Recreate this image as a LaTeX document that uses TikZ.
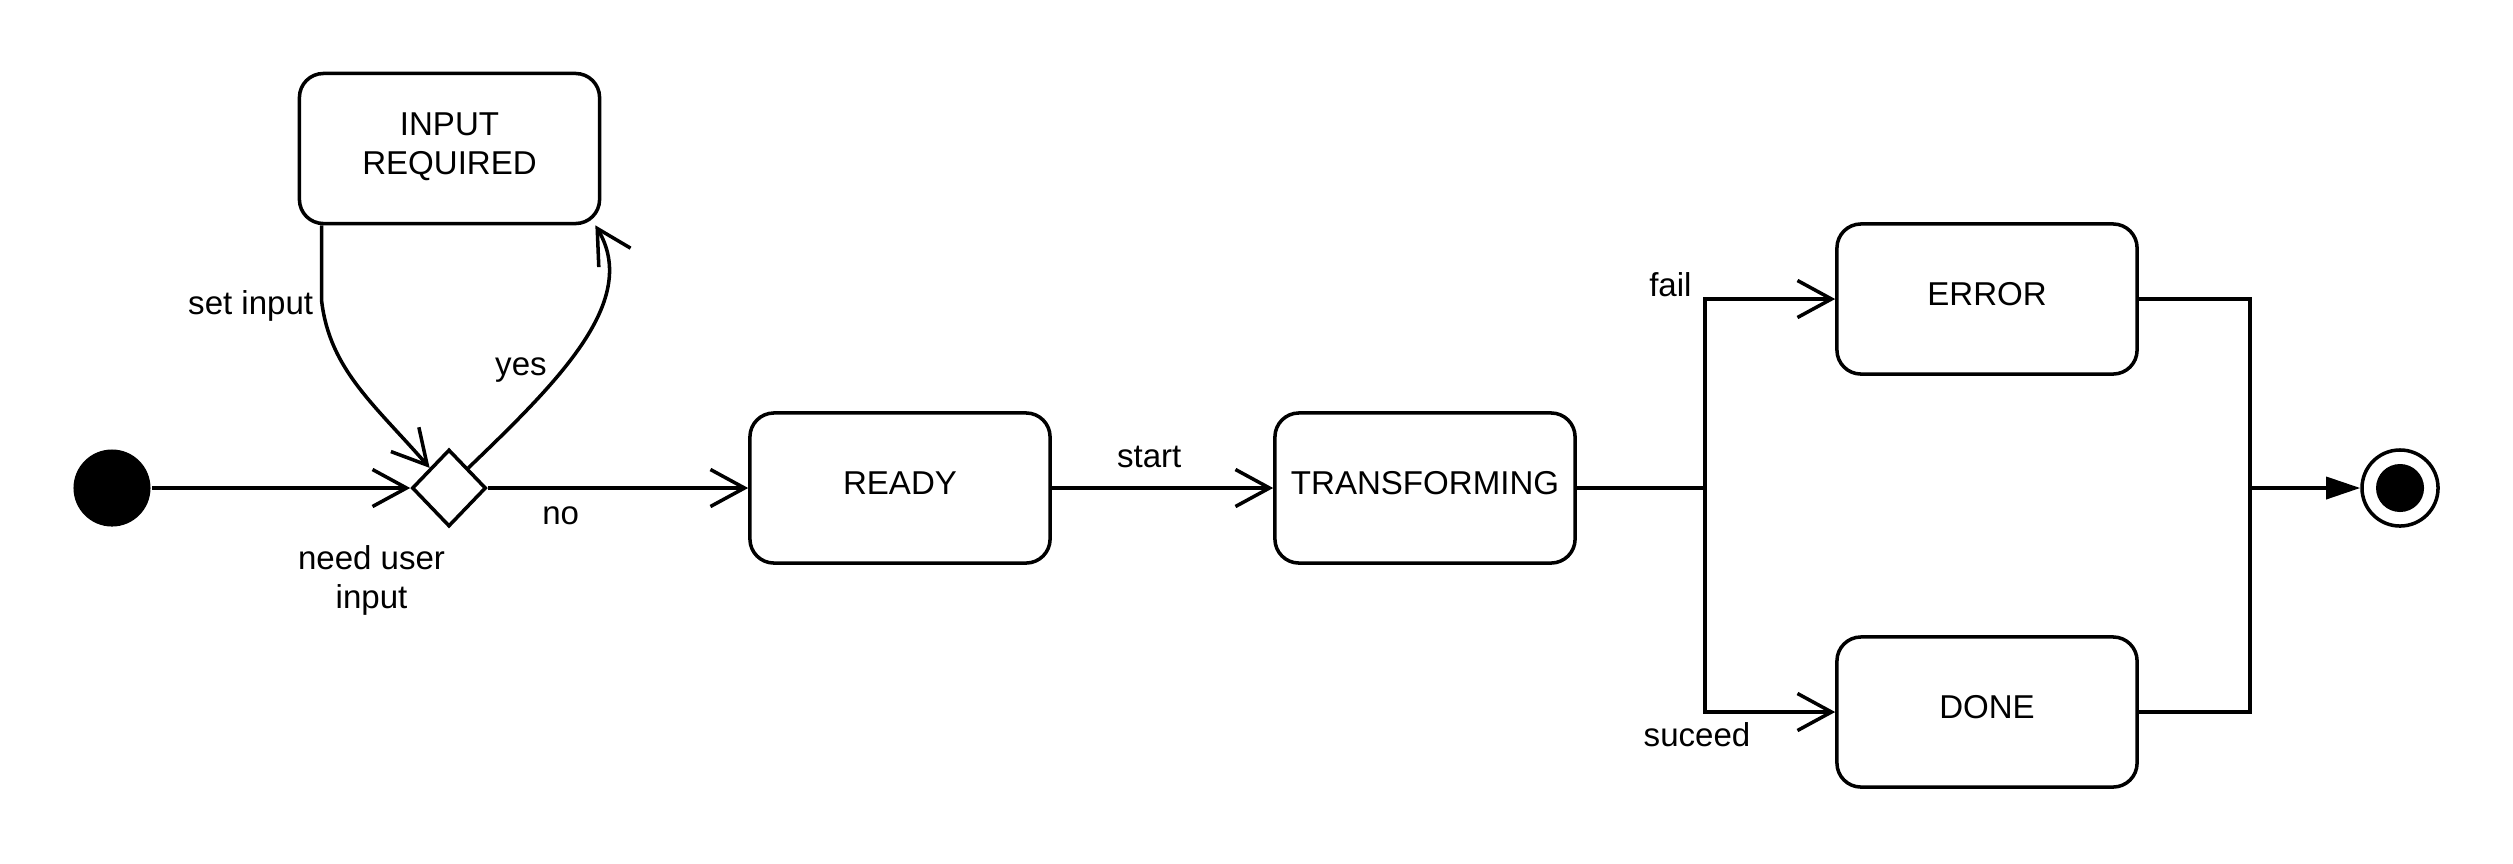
\documentclass[tikz,border=0pt]{standalone}
\usepackage{fontspec}
\setmainfont{Liberation Sans}
\usetikzlibrary{shapes.geometric,arrows.meta}

\tikzset{
    state/.style={draw, rounded corners=0.24cm, minimum width=3cm, minimum height=1.5cm, align=center, text depth=0.1cm},
    trans/.style={-{Straight Barb[length=0.34cm, width=0.37cm]}}
}

\begin{document}
\begin{tikzpicture}[x=0.01cm, y=-0.01cm, line width=1pt, font=\fontsize{9.4}{11.1}\selectfont]
        \useasboundingbox (0,0) rectangle (2513,863);
        \node [circle, fill, minimum size=0.77cm, inner sep=0] (init) at (112,488) {};
        \node [diamond, draw, minimum width=0.74cm, minimum height=0.77cm, inner sep=0] (choice) at (449,488) {};
        \node [state] (input) at (449.5,148.5) {INPUT\\REQUIRED};
        \node [state] (ready) at (900,488) {READY};
        \node [state] (transforming) at (1425,488) {TRANSFORMING};
        \node [state] (error) at (1987,299) {ERROR};
        \node [state] (done) at (1987,712) {DONE};
        \node [circle, draw, minimum size=0.76cm, inner sep=0] (final) at (2400,488) {};
        \node [circle, fill, minimum size=0.48cm, inner sep=0] (finaldot) at (final) {};
        \coordinate (split) at (1705,488);
        \coordinate (merge) at (2250,488);

        \draw [trans] (init) -- (choice)
            node [pos=0.85, below=0.44cm, align=center] {need user\\input};
        \draw [trans] ([xshift=0.24cm]input.south west) -- ++(0,76)
            node [left, xshift=0.05cm, yshift=-0.05cm] {set input}
            .. controls (330,370) and (375,405) .. (choice.north west);
        \draw [trans] (choice.north east) .. controls (560,380) and (640,300) .. ([xshift=-0.06cm]input.south east)
            node [pos=0.35, anchor=south east, inner sep=2pt, yshift=-0.13cm] {yes};
        \draw [trans] (choice) -- (ready) node [pos=0.28, below=0.05cm] {no};
        \draw [trans] (ready) -- (transforming) node [pos=0.44, above=0.07cm] {start};
        \draw (transforming) -- (split);
        \draw [trans] (split) |- (error) node [pos=0.5, anchor=base east, yshift=0.03cm] {fail};
        \draw [trans] (split) |- (done) node [pos=0.5, below, xshift=-0.08cm, yshift=0.03cm] {suceed};
        \draw (error) -| (merge);
        \draw (done) -| (merge);
        \draw [-{Triangle[length=0.34cm, width=0.22cm]}] (merge) -- (final);
    \end{tikzpicture}
\end{document}
